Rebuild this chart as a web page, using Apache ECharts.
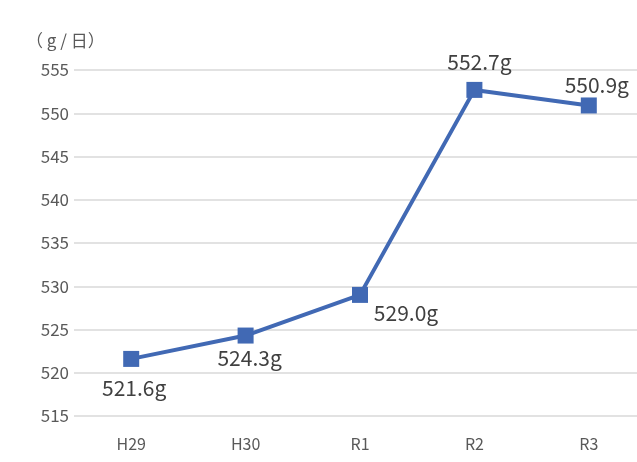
<!DOCTYPE html>
<html>
<head>
<meta charset="utf-8">
<script src="https://cdn.jsdelivr.net/npm/echarts@6/dist/echarts.min.js"></script>
<style>
html,body{margin:0;padding:0;background:#fff;}
#chart{width:637px;height:462px;}
</style>
</head>
<body>
<div id="chart"></div>
<script>
// Years (Japanese era notation) and daily amounts in grams
const categories = ['H29', 'H30', 'R1', 'R2', 'R3'];
const values = [521.6, 524.3, 529.0, 552.7, 550.9];
const yTicks = { min: 515, max: 555, interval: 5 };
const unitLabel = '（ g / 日）';

// label centre offset from each marker, in pixels
const labelOffsets = [[3, 29], [4, 22], [46, 18], [5, -28], [8, -20]];

const font = '"Noto Sans CJK JP", "Noto Sans", sans-serif';
const chart = echarts.init(document.getElementById('chart'), null, { renderer: 'canvas' });

chart.setOption({
  animation: false,
  backgroundColor: '#ffffff',
  grid: { left: 74, top: 70, width: 572, height: 346, containLabel: false, outerBoundsMode: 'none' },
  graphic: [{
    type: 'text', left: 26, top: 32,
    style: { text: unitLabel, font: '17px ' + font, fill: '#595959' }
  }],
  xAxis: {
    type: 'category',
    data: categories,
    boundaryGap: true,
    axisLine: { show: false },
    axisTick: { show: false },
    axisLabel: { color: '#595959', fontSize: 16, fontFamily: font, margin: 20 }
  },
  yAxis: {
    type: 'value',
    min: yTicks.min, max: yTicks.max, interval: yTicks.interval,
    axisLine: { show: false },
    axisTick: { show: false },
    axisLabel: { color: '#595959', fontSize: 17, fontFamily: font, margin: 5 },
    splitLine: { lineStyle: { color: '#d9d9d9', width: 1.5 } }
  },
  series: [{
    type: 'line',
    data: values.map((v, i) => ({
      value: v,
      label: { offset: labelOffsets[i] }
    })),
    symbol: 'rect',
    symbolSize: 16,
    itemStyle: { color: '#4169b4' },
    lineStyle: { color: '#4169b4', width: 4 },
    label: {
      show: true,
      position: 'inside',
      align: 'center',
      verticalAlign: 'middle',
      color: '#404040',
      fontSize: 21,
      fontFamily: font,
      formatter: p => p.value.toFixed(1) + 'g'
    }
  }]
});
</script>
</body>
</html>
